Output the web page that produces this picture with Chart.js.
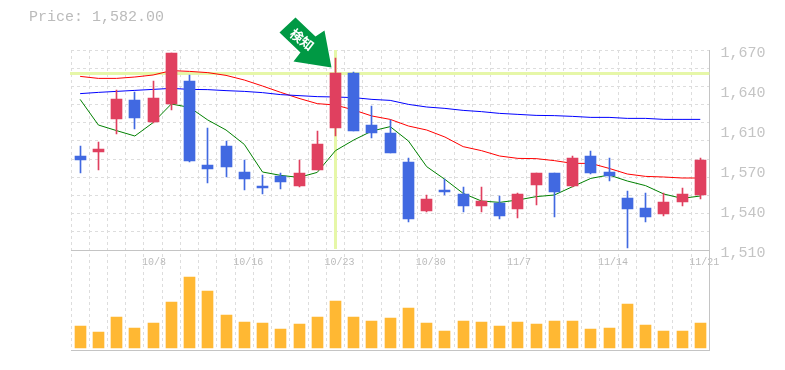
<!DOCTYPE html>
<html>
<head>
<meta charset="utf-8">
<script src="https://cdn.jsdelivr.net/npm/chart.js@4/dist/chart.umd.min.js"></script>
<style>
body { margin: 0; background: #fff; }
#wrap { position: relative; width: 785px; height: 370px; }
#price { position: absolute; left: 29px; top: 9px; font: 15px "Liberation Mono", monospace; color: #bbb; white-space: pre; }
</style>
</head>
<body>
<div id="wrap">
  <div id="price"></div>
  <canvas id="stockChart" width="785" height="370"></canvas>
</div>
<script>
const dates = ['10/2','10/3','10/4','10/7','10/8','10/9','10/10','10/11','10/15','10/16','10/17','10/18','10/21','10/22','10/23','10/24','10/25','10/28','10/29','10/30','10/31','11/1','11/5','11/6','11/7','11/8','11/11','11/12','11/13','11/14','11/15','11/18','11/19','11/20','11/21'];
const dateTicks = ['10/8','10/16','10/23','10/30','11/7','11/14','11/21'];
// the picture prints these rounded to tens, the ticks sit every 32
const priceTicks = [1510,1542,1574,1606,1638,1670];
const priceLabels = ['1,510','1,540','1,570','1,610','1,640','1,670'];

const opens = [1585.2,1588.4,1614.8,1630,1612.4,1626.8,1645.2,1578,1593.2,1572.4,1561.2,1569.2,1561.2,1574,1607.6,1651.6,1610,1603.6,1580.1,1541.2,1558,1554.8,1545.2,1547.6,1542.8,1562,1571.6,1561.2,1585.2,1572.4,1551.6,1543.6,1538.8,1548.4,1554];
const closes = [1582,1590.8,1630.8,1615.6,1631.6,1667.6,1581.2,1574.8,1576.4,1566.8,1559.6,1564.4,1571.6,1594.8,1651.6,1605.2,1603.6,1587.6,1534.8,1550.8,1556.4,1545.2,1549.2,1537.2,1554.8,1571.6,1556.4,1583.6,1571.6,1569.2,1542.8,1536.4,1548.4,1554.8,1582];
const highs = [1593.2,1596.4,1638,1636.4,1645.2,1667.6,1650,1607.6,1597.2,1582,1570,1571.6,1582,1605.2,1663.6,1652.4,1625.2,1614,1583.3,1554,1566.8,1560.4,1560.4,1553.2,1555.6,1571.6,1571.6,1585.2,1589.2,1583.6,1557.2,1555.6,1555.6,1559.6,1583.6];
const lows = [1571.9,1574,1602.8,1606.8,1612,1622,1580.4,1563.6,1568.4,1558,1555,1558.8,1560.4,1574,1601.2,1605.2,1599.6,1587.6,1532.4,1540.4,1554,1540.4,1540.4,1534.8,1535.6,1546,1536.4,1560.4,1570.8,1565.2,1512,1532.4,1537.2,1545.2,1550.8];
const maShort = [1630.5,1610,1605.5,1601.2,1611.9,1626.8,1624.1,1614,1606,1594.5,1572.4,1569.7,1568.1,1572.1,1589.5,1598,1605.2,1608.7,1597.2,1576.7,1566.5,1555.3,1549.2,1548.1,1550,1552.7,1554,1560.7,1567.3,1570,1565.2,1561.5,1554.8,1551.3,1553.2];
const maMid = [1648.9,1647.3,1647.3,1648.4,1650,1653.5,1652.9,1651.9,1649.7,1646,1641.2,1636.1,1631.3,1627.1,1626,1622,1617.2,1614.5,1609.2,1606,1600.4,1592.7,1589.5,1585.2,1583.3,1583.1,1581.5,1579.3,1579.3,1575.3,1570.8,1568.9,1568.4,1567.6,1567.6];
const maLong = [1635.1,1636.1,1636.9,1637.7,1638.5,1639.3,1638.5,1638.3,1637.5,1636.9,1635.9,1634.3,1633.5,1632.7,1632.4,1631.9,1630.5,1629.7,1626.5,1624.4,1623.3,1621.7,1620.7,1619.3,1618.5,1617.7,1617.5,1616.9,1616.1,1616.1,1615.3,1615.3,1614.5,1614.5,1614.5];
const volumes = [21.7,15.7,30.7,19.7,24.7,45.7,70.7,56.7,32.7,25.7,24.7,18.7,23.7,30.7,46.7,30.7,26.7,29.7,39.7,24.7,16.7,26.7,25.7,21.7,25.7,23.7,26.7,26.7,18.7,19.7,43.7,22.7,16.7,16.7,24.7];
const signalIndex = 14;

const RED = '#e0405f', BLUE = '#4169e1', GRID = '#ddd', AXIS = '#c4c4c4', HILITE = '#e6f7a8';
const candleColors = closes.map((c, i) => c >= opens[i] ? RED : BLUE);

document.getElementById('price').textContent = 'Price: ' + closes[closes.length - 1].toLocaleString('en-US', { minimumFractionDigits: 2 });

// grid has 11 rows, independent of the labelled prices
const priceMin = 1510, priceMax = 1670, gridRows = 11;
const gridValues = [];
for (let k = 0; k <= gridRows; k++) gridValues.push(priceMin + (priceMax - priceMin) * k / gridRows);

function maLine(data, color, lineWidth) {
    return { type: 'line', data, borderColor: color, borderWidth: lineWidth, pointRadius: 0, tension: 0, order: 5, yAxisID: 'y' };
}

// snap bars to whole pixels, and draw the signal highlight behind the marks
const candlePlugin = {
    id: 'candlePlugin',
    beforeDatasetsDraw(chart) {
        chart.data.datasets.forEach((ds, i) => {
            if (ds.type === 'line') return;
            chart.getDatasetMeta(i).data.forEach(el => {
                el.x = Math.floor(el.x) + 0.5;
                el.y = Math.round(el.y);
                el.base = Math.round(el.base);
            });
        });
        const { ctx, chartArea, scales } = chart;
        const sx = Math.floor(scales.x.getPixelForValue(signalIndex)) + 0.5;
        const sy = Math.round(scales.y.getPixelForValue(closes[signalIndex]));
        ctx.save();
        ctx.fillStyle = HILITE;
        ctx.fillRect(chartArea.left - 1, sy - 1, chartArea.width + 1, 3);
        ctx.fillRect(sx - 1.5, chartArea.top, 3, scales.y.bottom - chartArea.top - 1);
        ctx.restore();
    },
    afterDatasetsDraw(chart) {
        const { ctx, scales } = chart;
        const tipX = scales.x.getPixelForValue(signalIndex) - 4;
        const tipY = scales.y.getPixelForValue(closes[signalIndex]) - 5.5;
        const arrow = [[-52,-35],[-36,-50],[-16,-31],[-7,-37],[0,0],[-38,-6],[-31,-15]];
        ctx.save();
        ctx.fillStyle = '#009944';
        ctx.beginPath();
        arrow.forEach(([dx, dy], i) => i ? ctx.lineTo(tipX + dx, tipY + dy) : ctx.moveTo(tipX + dx, tipY + dy));
        ctx.closePath();
        ctx.fill();
        ctx.translate(tipX - 29.5, tipY - 28);
        ctx.rotate(Math.atan2(10, 13));
        ctx.fillStyle = '#fff';
        ctx.font = 'bold 13px "Noto Sans CJK JP"';
        ctx.textAlign = 'center';
        ctx.textBaseline = 'middle';
        ctx.fillText('検知', 0, 0);
        ctx.restore();
    }
};

new Chart(document.getElementById('stockChart').getContext('2d'), {
    data: {
        labels: dates,
        datasets: [
            { type: 'bar', data: volumes, backgroundColor: '#ffb833', barThickness: 11, yAxisID: 'yVol', order: 3 },
            maLine(maLong, '#0000ff', 1),
            maLine(maMid, '#ff0000', 1),
            maLine(maShort, '#008000', 1),
            { type: 'bar', data: dates.map((d, i) => [lows[i], highs[i]]), backgroundColor: candleColors, barThickness: 1, grouped: false, yAxisID: 'y', order: 2 },
            { type: 'bar', data: dates.map((d, i) => [opens[i], closes[i]]), backgroundColor: candleColors, barThickness: 11, grouped: false, yAxisID: 'y', order: 1 }
        ]
    },
    options: {
        responsive: false,
        animation: false,
        layout: { padding: { left: 71, right: 0.6, top: 50, bottom: 20 } },
        plugins: { legend: { display: false }, tooltip: { enabled: false } },
        datasets: { bar: { grouped: false } },
        scales: {
            x: {
                type: 'category',
                offset: true,
                position: { y: priceMin },
                grid: { color: GRID, offset: true, drawTicks: false },
                border: { display: true, color: AXIS, width: 1, dash: [3, 3] },
                ticks: {
                    autoSkip: false, maxRotation: 0, minRotation: 0, align: 'start', labelOffset: -11, padding: 6,
                    color: '#bbb', font: { family: '"Liberation Mono", monospace', size: 10 },
                    callback(value) { const d = this.getLabelForValue(value); return dateTicks.includes(d) ? d : ''; }
                }
            },
            y: {
                type: 'linear',
                position: 'right',
                stack: 'panels',
                stackWeight: 2,
                weight: 0,
                min: priceMin,
                max: priceMax,
                afterBuildTicks(axis) { axis.ticks = [...new Set([...gridValues, ...priceTicks])].map(value => ({ value })); },
                afterFit(axis) { axis.width = 75; },
                grid: { drawTicks: false, color: ctx => gridValues.includes(ctx.tick.value) ? GRID : 'rgba(0,0,0,0)' },
                border: { display: true, color: AXIS, width: 1, dash: [3, 3] },
                ticks: {
                    autoSkip: false, padding: 11, labelOffset: 3,
                    color: '#c4c4c4', font: { family: '"Liberation Mono", monospace', size: 15 },
                    callback: value => priceTicks.includes(value) ? priceLabels[priceTicks.indexOf(value)] : ''
                }
            },
            yVol: {
                type: 'linear',
                position: 'right',
                stack: 'panels',
                stackWeight: 1,
                weight: 1,
                min: -2.3,
                max: 97.7,
                afterBuildTicks(axis) { axis.ticks = [{ value: axis.min }]; },
                afterFit(axis) { axis.width = 75; },
                grid: { drawTicks: false, color: AXIS },
                border: { display: true, color: AXIS, width: 1 },
                ticks: { display: false }
            }
        }
    },
    plugins: [candlePlugin]
});
</script>
</body>
</html>
